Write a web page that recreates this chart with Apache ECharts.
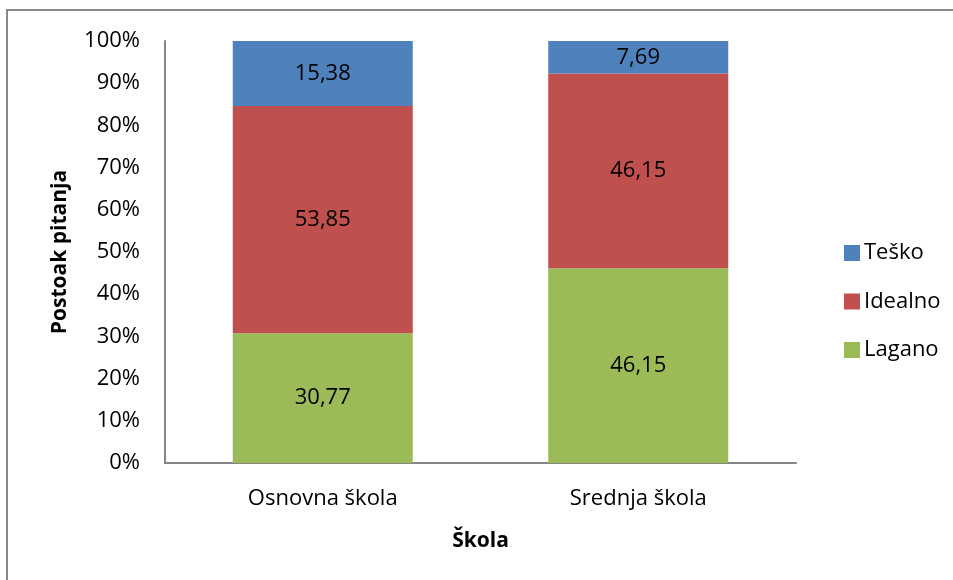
<!DOCTYPE html>
<html><head><meta charset="utf-8">
<script src="https://cdn.jsdelivr.net/npm/echarts@6/dist/echarts.min.js"></script>
<style>html,body{margin:0;padding:0;background:#fff}#c{width:953px;height:580px}</style>
</head><body><div id="c"></div>
<script>
const categories = ['Osnovna škola', 'Srednja škola'];
const lagano = [30.77, 46.15];
const idealno = [53.85, 46.15];
const tesko = [15.38, 7.69];
const yTicks = [0, 10, 20, 30, 40, 50, 60, 70, 80, 90, 100];

const FONT = '"Open Sans", Lato, sans-serif';
const chart = echarts.init(document.getElementById('c'), null, {renderer: 'canvas'});
const lbl = {
  show: true, position: 'inside', color: '#000', fontSize: 22, fontFamily: FONT,
  formatter: p => String(p.value).replace('.', ',')
};
function ser(name, data, color) {
  return {name, type: 'bar', stack: 'a', data, barWidth: 180,
    itemStyle: {color}, label: lbl, emphasis: {disabled: true}};
}
chart.setOption({
  animation: false,
  graphic: [{type: 'rect', shape: {x: 7, y: 10, width: 1200, height: 1200},
    style: {fill: 'none', stroke: '#898989', lineWidth: 2}, silent: true}],
  grid: {left: 165, right: 157, top: 41, bottom: 117},
  legend: {
    orient: 'vertical', left: 839, top: 237, itemWidth: 16, itemHeight: 16, itemGap: 26.5,
    icon: 'rect', data: ['Teško', 'Idealno', 'Lagano'],
    textStyle: {fontSize: 22, fontFamily: FONT, color: '#000', padding: [0, 0, 0, -1]}
  },
  xAxis: {
    type: 'category', data: categories,
    axisLine: {lineStyle: {color: '#868686', width: 2}},
    axisTick: {show: false},
    axisLabel: {fontSize: 22, fontFamily: FONT, color: '#000', margin: 25},
    name: 'Škola', nameLocation: 'middle', nameGap: 68,
    nameTextStyle: {fontSize: 21, fontWeight: 'bold', fontFamily: FONT, color: '#000'}
  },
  yAxis: {
    type: 'value', min: 0, max: 100, interval: 10,
    axisLine: {show: true, lineStyle: {color: '#868686', width: 2}},
    axisTick: {show: false},
    splitLine: {show: false},
    axisLabel: {fontSize: 22, fontFamily: FONT, color: '#000', margin: 25,
      formatter: v => yTicks.includes(v) ? v + '%' : ''},
    name: 'Postoak pitanja', nameLocation: 'middle', nameGap: 94,
    nameTextStyle: {fontSize: 21, fontWeight: 'bold', fontFamily: FONT, color: '#000'}
  },
  series: [
    ser('Lagano', lagano, '#9BBB59'),
    ser('Idealno', idealno, '#C0504D'),
    ser('Teško', tesko, '#4F81BD')
  ]
});
</script></body></html>
